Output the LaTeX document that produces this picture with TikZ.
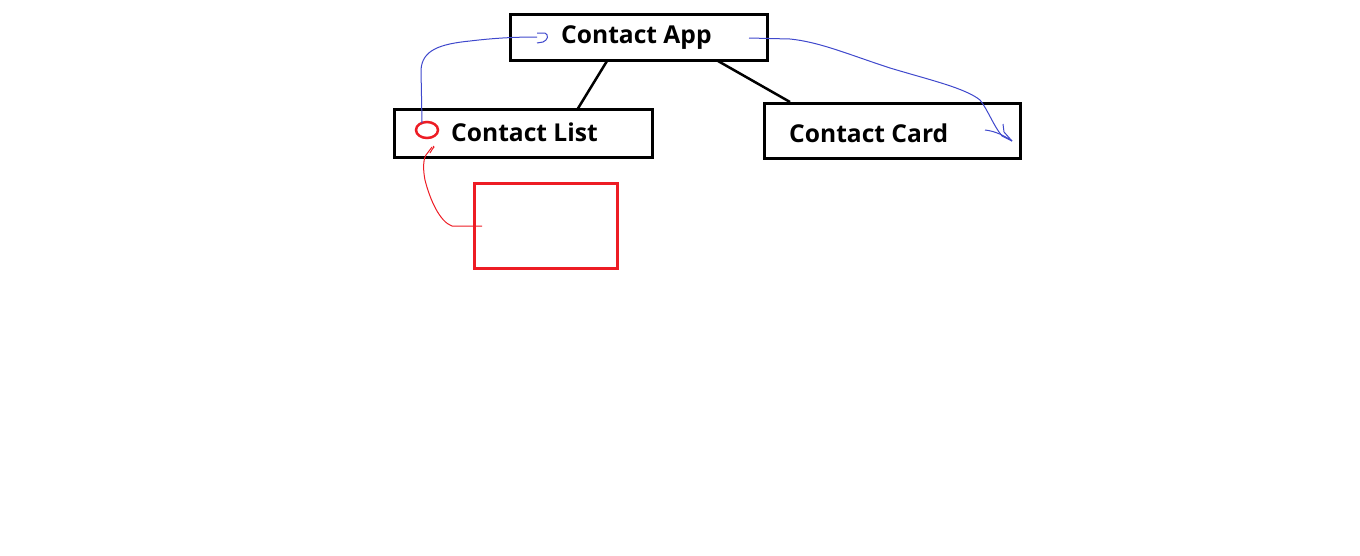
\documentclass[tikz,border=0pt]{standalone}
\usepackage{fontspec}
\usetikzlibrary{shapes.geometric}
\setmainfont{Open Sans}
\begin{document}
\begin{tikzpicture}[x=1pt,y=-1pt,
  box/.style={draw=black,line width=3pt,anchor=north west,inner sep=0pt,outer sep=0pt},
  redbox/.style={draw={rgb,255:red,237;green,28;blue,36},line width=3pt,anchor=north west,inner sep=0pt,outer sep=0pt},
  lbl/.style={anchor=base west,inner sep=0pt,font=\fontsize{24.6}{25}\selectfont\bfseries},
  blueline/.style={draw={rgb,255:red,63;green,72;blue,204},line width=1pt},
  redline/.style={draw={rgb,255:red,237;green,28;blue,36},line width=1pt}]
\useasboundingbox (0,0) rectangle (1360,555);
\definecolor{myred}{RGB}{237,28,36}
% boxes
\node[box,minimum width=257pt,minimum height=46pt] (app) at (510,14) {};
\node[box,minimum width=258pt,minimum height=48pt] (list) at (394,109) {};
\node[box,minimum width=256pt,minimum height=55pt] (card) at (764,103) {};
\node[redbox,minimum width=143pt,minimum height=85pt] (note) at (474,183) {};
\coordinate (appL) at (607,61);
\coordinate (listT) at (577,110);
\coordinate (appR) at (718,61);
\coordinate (cardT) at (790,102);
\draw[line width=2.5pt] (appL) -- (listT);
\draw[line width=2.5pt] (appR) -- (cardT);
% labels
\node[lbl] (tapp) at (561,43) {Contact App};
\node[lbl] (tlist) at (451,141) {Contact List};
\node[lbl] (tcard) at (789,142) {Contact Card};
% red ellipse
\node[draw=myred,line width=2.5pt,ellipse,minimum width=22pt,minimum height=16pt,inner sep=0pt,outer sep=0pt] (mark) at (427,130) {};
% blue curve 1
\coordinate (b1s) at (422,123);
\coordinate (b1e) at (537,37);
\draw[blueline] (b1s) -- (421,70) .. controls (422,50) and (440,44) .. (470,41) .. controls (495,38) and (515,37) .. (b1e);
\draw[blueline] (537,33) -- (545,33) .. controls (549,35) and (548,40) .. (543,42) -- (537,43);
% blue curve 2
\coordinate (b2s) at (749,38);
\coordinate (b2e) at (1012,141);
\draw[blueline] (b2s) -- (790,39) .. controls (820,42) and (850,55) .. (890,68) .. controls (930,80) and (965,88) .. (980,100) .. controls (988,110) and (993,125) .. (1002,136) -- (b2e);
\draw[blueline] (985,130) .. controls (995,131) and (1005,136) .. (b2e);
\draw[blueline] (1003,124) -- (1004,132) -- (b2e);
% red curve
\coordinate (r1s) at (482,226);
\coordinate (r1e) at (432,147);
\draw[redline] (r1s) -- (452,226) .. controls (440,222) and (430,200) .. (425,180) .. controls (423,170) and (423,160) .. (426,155) -- (r1e);
\draw[redline] (430,153) .. controls (431,150) and (433,149) .. (434,147) -- (433,146);
\end{tikzpicture}
\end{document}
